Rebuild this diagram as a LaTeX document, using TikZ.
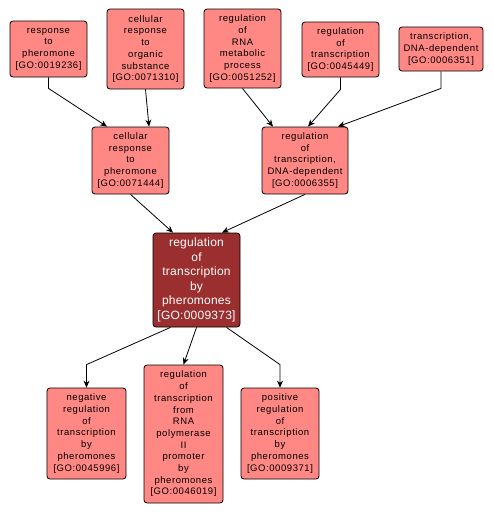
\documentclass[tikz,border=0pt]{standalone}
\usepackage{fontspec}
\setmainfont{Liberation Sans}
\newfontfamily\smallgo[LetterSpace=6]{Liberation Sans}
\newfontfamily\maingo[LetterSpace=2]{Liberation Sans}
\usetikzlibrary{arrows.meta}
\definecolor{golight}{RGB}{255,136,132}
\definecolor{godark}{RGB}{155,46,46}
\tikzset{
  goterm/.style={draw=black, line width=0.8pt, fill=golight, rounded corners=3pt,
    align=center, inner sep=0pt, font=\smallgo\fontsize{9.5}{11.7}\selectfont},
  gomain/.style={goterm, fill=godark, text=white, font=\maingo\fontsize{12}{14.5}\selectfont},
  isa/.style={draw=black, line width=0.8pt, -{Stealth[length=7pt,width=6pt]}}
}
\begin{document}
\begin{tikzpicture}[x=1pt,y=-1pt]
\useasboundingbox (0,0) rectangle (494,514);
% top row
\node[goterm, minimum width=77pt, minimum height=56pt] (n1) at (48.5,49) {response\\to\\pheromone\\{[GO:0019236]}};
\node[goterm, minimum width=77pt, minimum height=80pt] (n2) at (145.5,49) {cellular\\response\\to\\organic\\substance\\{[GO:0071310]}};
\node[goterm, minimum width=77pt, minimum height=79pt] (n3) at (242.5,48.5) {regulation\\of\\RNA\\metabolic\\process\\{[GO:0051252]}};
\node[goterm, minimum width=77pt, minimum height=55pt] (n4) at (340.5,49.5) {regulation\\of\\transcription\\{[GO:0045449]}};
\node[goterm, minimum width=84pt, minimum height=44pt] (n5) at (441,49) {transcription,\\DNA-dependent\\{[GO:0006351]}};
% middle row
\node[goterm, minimum width=77pt, minimum height=67pt] (m1) at (130.5,160.5) {cellular\\response\\to\\pheromone\\{[GO:0071444]}};
\node[goterm, minimum width=86pt, minimum height=67pt] (m2) at (305,160.5) {regulation\\of\\transcription,\\DNA-dependent\\{[GO:0006355]}};
% main
\node[gomain, minimum width=87pt, minimum height=94pt] (main) at (196.5,280) {regulation\\of\\transcription\\by\\pheromones\\{[GO:0009373]}};
% bottom row
\node[goterm, minimum width=79pt, minimum height=91pt] (b1) at (86.5,433.5) {negative\\regulation\\of\\transcription\\by\\pheromones\\{[GO:0045996]}};
\node[goterm, minimum width=79pt, minimum height=138pt] (b2) at (183.5,434) {regulation\\of\\transcription\\from\\RNA\\polymerase\\II\\promoter\\by\\pheromones\\{[GO:0046019]}};
\node[goterm, minimum width=78pt, minimum height=91pt] (b3) at (280,433.5) {positive\\regulation\\of\\transcription\\by\\pheromones\\{[GO:0009371]}};
% edges
\draw[isa] (n1.south) -- ++(0,11) -- ([xshift=-23.5pt]m1.north);
\draw[isa] (n2.south) -- ([xshift=18.5pt]m1.north);
\draw[isa] (n3.south) -- ([xshift=-32pt]m2.north);
\draw[isa] (n4.south) -- ++(0,12) -- ([xshift=3pt]m2.north);
\draw[isa] (n5.south) -- ++(0,17) -- ([xshift=33pt]m2.north);
\draw[isa] (m1.south) -- ([xshift=-23.5pt]main.north);
\draw[isa] (m2.south) -- ([xshift=25.5pt]main.north);
\draw[isa] ([xshift=-26pt]main.south) -- ([yshift=23pt]b1.north) -- (b1.north);
\draw[isa] (main.south) -- (b2.north);
\draw[isa] ([xshift=30pt]main.south) -- ([yshift=23pt]b3.north) -- (b3.north);
\end{tikzpicture}
\end{document}
